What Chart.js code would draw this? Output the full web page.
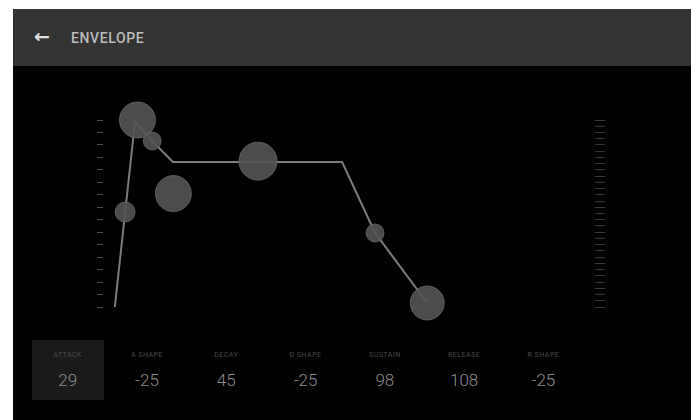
<!DOCTYPE html>
<html>
<head>
<meta charset="utf-8">
<script src="https://cdn.jsdelivr.net/npm/chart.js@4"></script>
<style>
  html, body { margin: 0; padding: 0; background: #fff; }
  body { width: 691px; height: 420px; position: relative; overflow: hidden; font-family: Roboto, "Noto Sans", sans-serif; }
  #screen { position: absolute; left: 13px; top: 9px; width: 678px; height: 411px; background: #000; }
  #bar { position: absolute; left: 0; top: 0; width: 678px; height: 57px; background: #333; }
  #back { position: absolute; left: 21px; top: 13px; color: #e0e0e0; font-family: "DejaVu Sans", sans-serif; font-weight: bold; font-size: 19px; line-height: 28px; }
  #title { position: absolute; left: 58px; top: 21px; color: #bdbdbd; font-size: 14px; font-weight: 500; letter-spacing: 0.6px; line-height: 16px; }
  #wrap { position: absolute; left: 0; top: 58px; width: 678px; height: 270px; }
  #params { position: absolute; left: 15px; top: 331px; height: 60px; display: flex; }
  .cell { width: 79.3px; height: 60px; position: relative; text-align: center; }
  .cell.sel::before { content: ""; position: absolute; left: 4px; right: 3px; top: 0; bottom: 0; background: #1a1a1a; }
  .cell .lbl { position: relative; padding-top: 11px; font-size: 7px; color: #4d4d4d; letter-spacing: 0.5px; line-height: 9px; }
  .cell .val { position: relative; padding-top: 10px; font-size: 17px; color: #8e8e8e; font-weight: 300; line-height: 20px; }
</style>
</head>
<body>
<div id="screen">
  <div id="bar"><div id="back">&#8592;</div><div id="title">ENVELOPE</div></div>
  <div id="wrap"><canvas id="chart" width="678" height="270"></canvas></div>
  <div id="params"></div>
</div>
<script>
// envelope curve (time, level)
const lineTimes  = [2.4, 6.5, 10.0, 14.2, 48.6, 55.3, 65.9];
const lineLevels = [0, 148.4, 133.2, 116.3, 116.3, 59.4, 3.2];

// handles
const handleTimes  = [4.5, 7.0, 10.0, 14.3, 31.5, 55.3, 65.9];
const handleLevels = [76.2, 150, 133.2, 91, 117, 59.4, 3.2];
const handleSizes  = [10, 18, 9, 18, 19, 9, 17];

// parameter strip
const paramNames  = ["ATTACK", "A SHAPE", "DECAY", "D SHAPE", "SUSTAIN", "RELEASE", "R SHAPE"];
const paramValues = [29, -25, 45, -25, 98, 108, -25];
const selectedParam = 0;

const params = document.getElementById("params");
paramNames.forEach((name, i) => {
    const cell = document.createElement("div");
    cell.className = "cell" + (i === selectedParam ? " sel" : "");
    cell.innerHTML = `<div class="lbl">${name}</div><div class="val">${paramValues[i]}</div>`;
    params.appendChild(cell);
});

const tickGrid = (len, color) => ({
    display: true,
    drawOnChartArea: false,
    drawTicks: true,
    tickLength: len,
    tickColor: color,
    lineWidth: 1
});

new Chart(document.getElementById("chart"), {
    data: {
        datasets: [
            {
                type: "line",
                data: lineTimes.map((t, i) => ({ x: t, y: lineLevels[i] })),
                borderColor: "#7c7c7c",
                borderWidth: 2,
                pointRadius: 0,
                tension: 0,
                fill: false,
                order: 2
            },
            {
                type: "bubble",
                data: handleTimes.map((t, i) => ({ x: t, y: handleLevels[i], r: handleSizes[i] })),
                backgroundColor: "rgba(84,84,84,0.9)",
                borderColor: "rgba(112,112,112,0.7)",
                borderWidth: 1,
                order: 1
            }
        ]
    },
    options: {
        responsive: false,
        animation: false,
        clip: false,
        layout: { padding: { left: 82, right: 84, top: 53, bottom: 30 } },
        plugins: { legend: { display: false }, tooltip: { enabled: false } },
        scales: {
            x: { type: "linear", min: 0, max: 100, display: false },
            y: {
                position: "left",
                min: 0, max: 150,
                ticks: { display: false, stepSize: 10 },
                grid: tickGrid(6, "#4a4a4a"),
                border: { display: false },
                afterFit: s => { s.width = 8; }
            },
            y2: {
                position: "right",
                min: 0, max: 150,
                ticks: { display: false, stepSize: 5 },
                grid: tickGrid(10, "#333"),
                border: { display: false },
                afterFit: s => { s.width = 12; }
            }
        }
    }
});
</script>
</body>
</html>
